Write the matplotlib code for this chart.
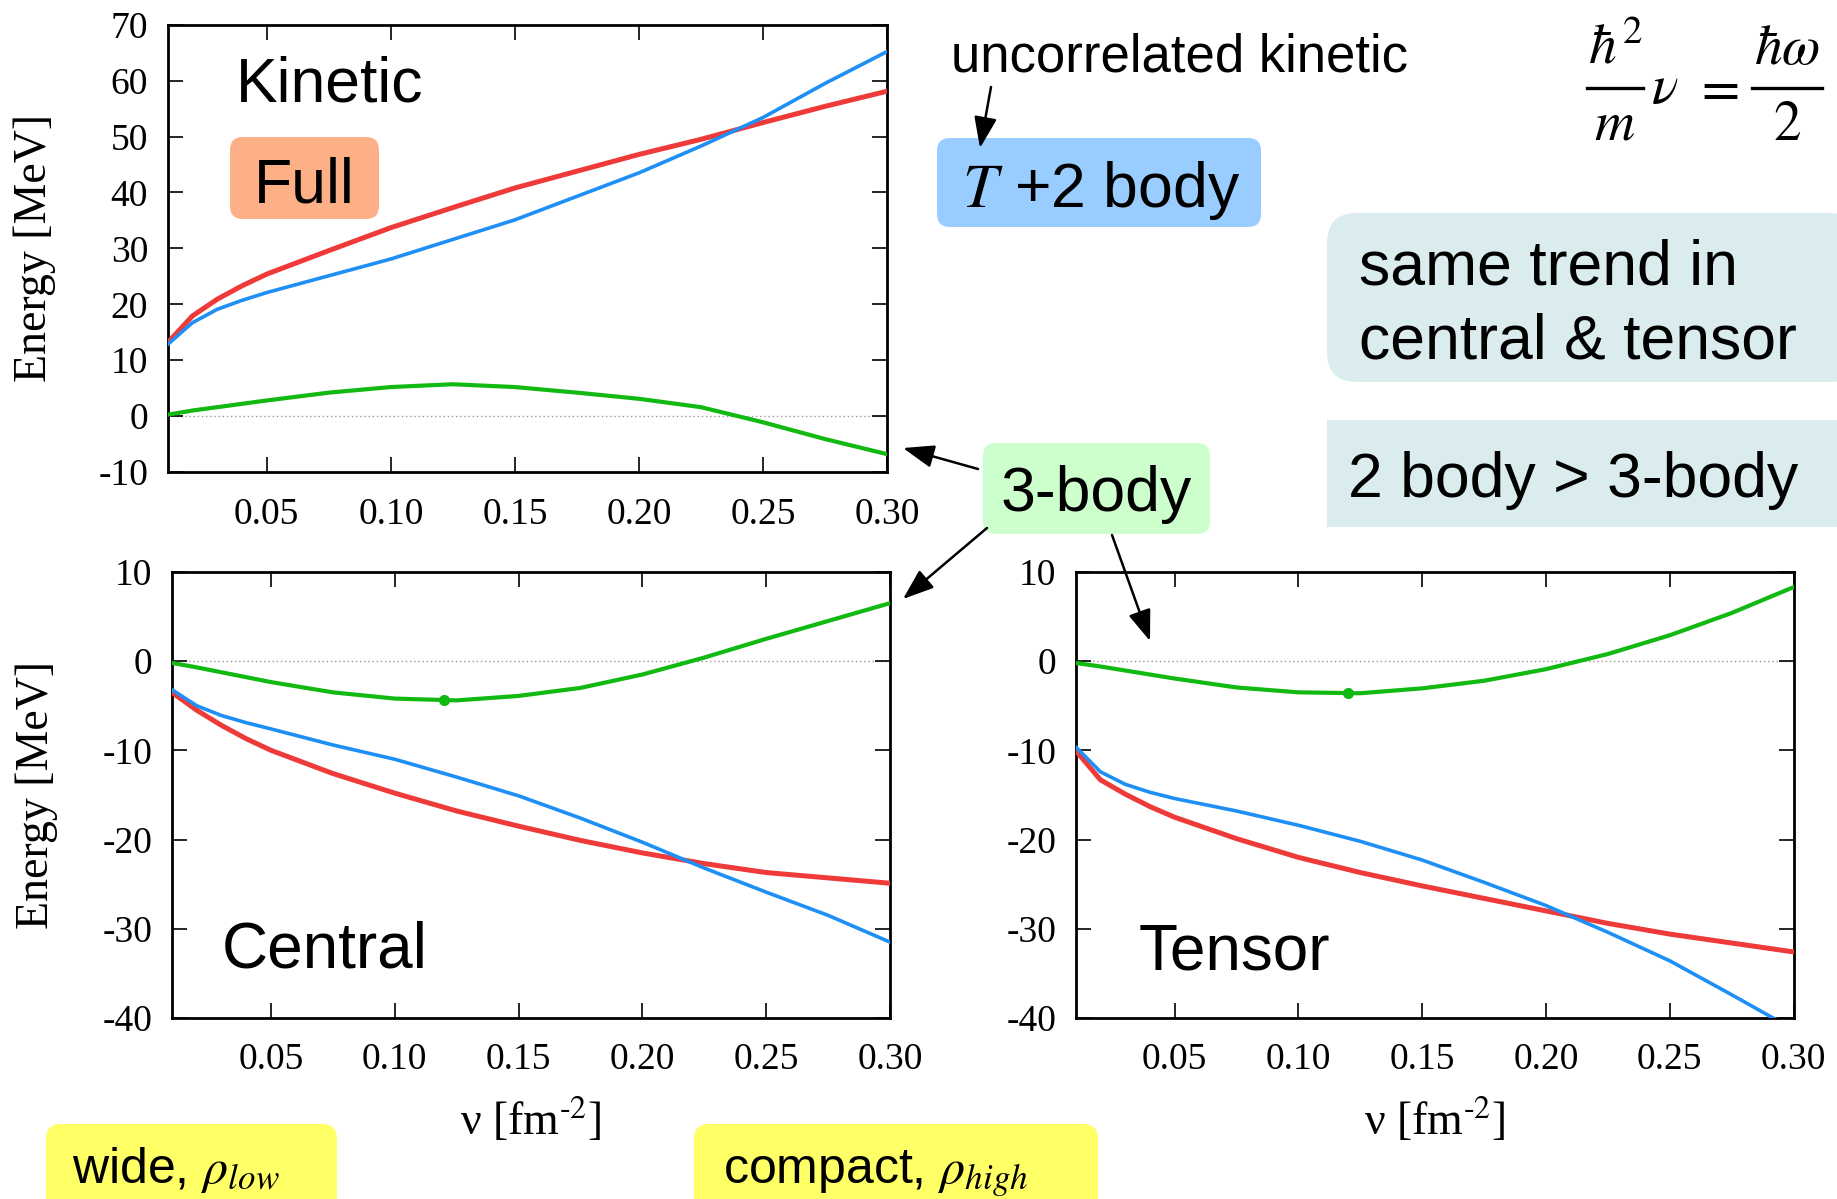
import matplotlib
matplotlib.use("Agg")
import matplotlib.pyplot as plt
from matplotlib.patches import FancyBboxPatch, Rectangle
from matplotlib.ticker import FormatStrFormatter

plt.rcParams["axes.unicode_minus"] = False
plt.rcParams["mathtext.fontset"] = "stix"

# nu [fm^-2] grid
nu = [0.01, 0.02, 0.03, 0.04, 0.05, 0.075, 0.10, 0.125, 0.15, 0.175,
      0.20, 0.225, 0.25, 0.275, 0.30]

# kinetic
kin_full = [13.1, 17.9, 20.9, 23.3, 25.4, 29.6, 33.7, 37.3, 40.8, 43.8,
            46.8, 49.5, 52.5, 55.4, 58.1]
kin_2body = [12.8, 16.7, 19.1, 20.7, 22.1, 25.1, 28.1, 31.6, 35.1, 39.3,
             43.5, 48.3, 53.4, 59.5, 65.2]
kin_3body = [0.25, 1.0, 1.6, 2.2, 2.8, 4.2, 5.2, 5.7, 5.2, 4.2,
             3.1, 1.6, -1.1, -4.1, -6.8]

# central
cen_full = [-3.5, -5.5, -7.2, -8.7, -10.0, -12.6, -14.8, -16.8, -18.5, -20.1,
            -21.5, -22.7, -23.7, -24.3, -24.9]
cen_2body = [-3.2, -5.0, -6.1, -6.9, -7.6, -9.4, -11.0, -13.0, -15.1, -17.6,
             -20.3, -23.2, -25.9, -28.5, -31.5]
cen_3body = [-0.2, -0.7, -1.25, -1.8, -2.35, -3.5, -4.2, -4.4, -3.9, -3.0,
             -1.5, 0.4, 2.5, 4.5, 6.5]

# tensor
ten_full = [-10.0, -13.3, -14.9, -16.3, -17.5, -19.9, -22.0, -23.7, -25.2, -26.6,
            -28.0, -29.4, -30.6, -31.6, -32.6]
ten_2body = [-9.6, -12.4, -13.8, -14.7, -15.4, -16.8, -18.4, -20.2, -22.3, -24.8,
             -27.4, -30.4, -33.6, -37.4, -41.3]
ten_3body = [-0.2, -0.6, -1.05, -1.5, -1.95, -2.95, -3.5, -3.6, -3.05, -2.2,
             -0.9, 0.8, 2.9, 5.4, 8.3]

# marked points on the 3-body curves
nu_mark = 0.12
cen_mark = -4.4
ten_mark = -3.6

x_ticks = [0.05, 0.10, 0.15, 0.20, 0.25, 0.30]

RED = "#ef3a3a"
BLUE = "#1e8ff5"
GREEN = "#12b912"
SERIF = "Liberation Serif"
SANS = "Liberation Sans"

W, H = 1837, 1199
fig = plt.figure(figsize=(W / 100, H / 100), dpi=100)


def setup(ax, ylim, yticks, ylabel=None, xlabel=True):
    ax.axhline(0, color="#999999", ls=(0, (1, 2)), lw=1.0, zorder=1)
    ax.set_xlim(0.01, 0.30)
    ax.set_ylim(*ylim)
    ax.set_xticks(x_ticks)
    ax.set_yticks(yticks)
    ax.xaxis.set_major_formatter(FormatStrFormatter("%.2f"))
    ax.tick_params(direction="in", length=11, width=1.2, top=True, right=True,
                   labelsize=27)
    ax.tick_params(axis="x", pad=18)
    ax.tick_params(axis="y", pad=14)
    for lab in ax.get_xticklabels() + ax.get_yticklabels():
        lab.set_fontfamily(SERIF)
    for s in ax.spines.values():
        s.set_linewidth(2.0)
    if ylabel is not None:
        ax.set_ylabel("Energy [MeV]", fontsize=33, family=SERIF)
        ax.yaxis.set_label_coords(ylabel, 0.5)
    if xlabel:
        ax.set_xlabel(r"ν [fm$^{\text{-2}}$]", fontsize=33, family=SERIF, va="top")
        ax.xaxis.set_label_coords(0.5, -0.175)


def curves(ax, full, two, three):
    ax.plot(nu, three, color=GREEN, lw=3.0, zorder=3)
    ax.plot(nu, two, color=BLUE, lw=2.6, zorder=4)
    ax.plot(nu, full, color=RED, lw=3.6, zorder=3)


ax_k = fig.add_axes([0.0912, 0.6063, 0.3917, 0.3731])
curves(ax_k, kin_full, kin_2body, kin_3body)
setup(ax_k, (-10, 70), range(-10, 71, 10), ylabel=-0.155, xlabel=False)

ax_c = fig.add_axes([0.0936, 0.1510, 0.3909, 0.3720])
curves(ax_c, cen_full, cen_2body, cen_3body)
ax_c.plot([nu_mark], [cen_mark], "o", color=GREEN, ms=7, zorder=5)
setup(ax_c, (-40, 10), range(-40, 11, 10), ylabel=-0.158)

ax_t = fig.add_axes([0.5855, 0.1510, 0.3909, 0.3720])
curves(ax_t, ten_full, ten_2body, ten_3body)
ax_t.plot([nu_mark], [ten_mark], "o", color=GREEN, ms=7, zorder=5)
setup(ax_t, (-40, 10), range(-40, 11, 10))

# overlay in pixel units for the annotations
ov = fig.add_axes([0, 0, 1, 1], zorder=10)
ov.set_xlim(0, W)
ov.set_ylim(H, 0)
ov.axis("off")
ov.patch.set_alpha(0)


def rbox(x0, y0, x1, y1, color, r=13):
    ov.add_patch(FancyBboxPatch((x0, y0), x1 - x0, y1 - y0,
                                boxstyle=f"round,pad=0,rounding_size={r}",
                                fc=color, ec="none"))


rbox(230, 137, 379, 219, "#fdaf87")
rbox(937, 138, 1261, 227, "#99ccff")
rbox(983, 443, 1210, 534, "#ccffcc")
rbox(1327, 213, 1860, 382, "#daecee", r=30)
ov.add_patch(Rectangle((1327, 420), 520, 107, fc="#daecee", ec="none"))
rbox(46, 1124, 337, 1230, "#ffff66", r=15)
rbox(694, 1124, 1098, 1230, "#ffff66", r=15)

ov.text(236, 85, "Kinetic", fontsize=45, family=SANS, va="center")
ov.text(304, 186, "Full", fontsize=45, family=SANS, va="center", ha="center")
ov.text(962, 191, "$T$ +2 body", fontsize=45, family=SANS, va="center")
ov.text(951, 58, "uncorrelated kinetic", fontsize=38, family=SANS, va="center")
ov.text(1096, 494, "3-body", fontsize=45, family=SANS, va="center", ha="center")
ov.text(1359, 268, "same trend in", fontsize=45, family=SANS, va="center")
ov.text(1359, 342, "central & tensor", fontsize=45, family=SANS, va="center")
ov.text(1348, 480, "2 body > 3-body", fontsize=45, family=SANS, va="center")
ov.text(222, 950, "Central", fontsize=46, family=SANS, va="center")
ov.text(1139, 952, "Tensor", fontsize=46, family=SANS, va="center")
ov.text(72, 1183, r"wide, $\rho_{low}$", fontsize=36, family=SANS, va="baseline")
ov.text(723, 1183, r"compact, $\rho_{high}$", fontsize=36, family=SANS,
        va="baseline")

# hbar^2/m nu = hbar omega/2, laid out piece by piece
fs = 40
ov.text(1615, 64, r"$\hbar^2$", fontsize=fs, ha="center", va="baseline")
ov.plot([1587, 1643], [88, 88], color="k", lw=2.4)
ov.text(1615, 140, r"$m$", fontsize=fs, ha="center", va="baseline")
ov.text(1665, 103, r"$\nu$", fontsize=fs, ha="center", va="baseline")
ov.text(1716, 89, r"$=$", fontsize=fs, ha="center", va="center")
ov.text(1787, 64, r"$\hbar\omega$", fontsize=fs, ha="center", va="baseline")
ov.plot([1752, 1822], [88, 88], color="k", lw=2.4)
ov.text(1787, 140, r"$2$", fontsize=fs, ha="center", va="baseline")

arrows = [((991, 87), (980, 148)),
          ((978, 469), (903, 448)),
          ((987, 528), (903, 599)),
          ((1112, 535), (1150, 641))]
for tail, tip in arrows:
    ov.annotate("", xy=tip, xytext=tail,
                arrowprops=dict(arrowstyle="-|>,head_length=1.9,head_width=0.7",
                                mutation_scale=10, color="k", lw=1.8,
                                shrinkA=0, shrinkB=0))

fig.savefig("out.png", dpi=100)
